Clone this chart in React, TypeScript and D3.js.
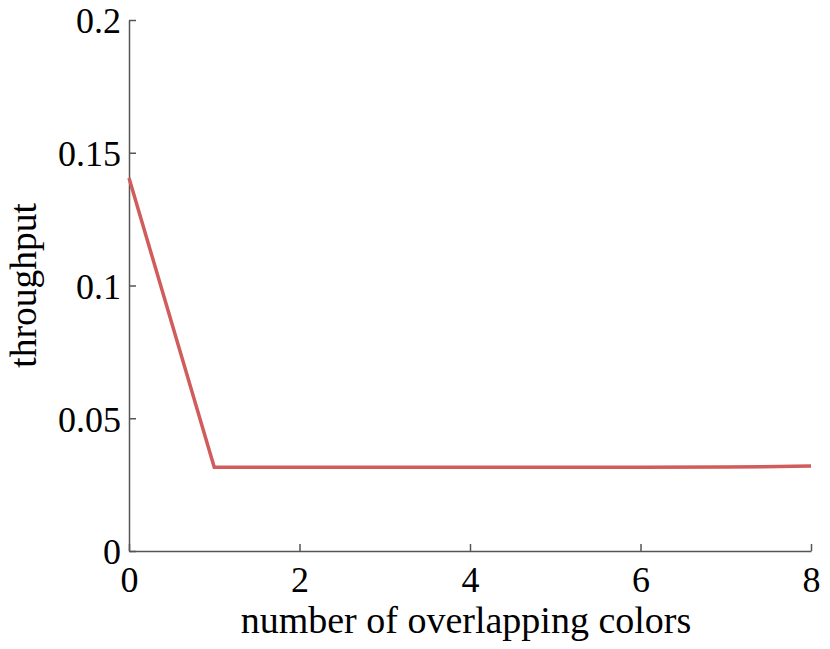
import React, { useEffect, useRef } from 'react';
import * as d3 from 'd3';

// values
const colorsOverlap = [0, 1, 2, 3, 4, 5, 6, 7, 8];
const throughput = [0.1405, 0.0315, 0.0315, 0.0315, 0.0315, 0.0315, 0.0315, 0.0316, 0.032];
const xTicks = [0, 2, 4, 6, 8];
const yTicks = [0, 0.05, 0.1, 0.15, 0.2];
const yTickLabels = ['0', '0.05', '0.1', '0.15', '0.2'];

const W = 830;
const H = 649;
const margin = { top: 20, right: 19, bottom: 98, left: 129 };
const FONT = '"Liberation Serif", "Times New Roman", serif';

const App = () => {
    const ref = useRef<SVGSVGElement>(null);

    useEffect(() => {
        const svg = d3.select(ref.current);
        svg.selectAll('*').remove();

        const x = d3.scaleLinear().domain([0, 8]).range([margin.left, W - margin.right]);
        const y = d3.scaleLinear().domain([0, 0.2]).range([H - margin.bottom, margin.top]);

        // x axis, ticks pointing inward
        const xAxis = svg.append('g')
            .attr('transform', `translate(0,${y(0)})`)
            .call(d3.axisBottom(x).tickValues(xTicks).tickSizeInner(-7).tickSizeOuter(0).tickFormat(d3.format('d')));
        xAxis.select('.domain').attr('stroke', '#555').attr('stroke-width', 1.5);
        xAxis.selectAll('.tick line').attr('stroke', '#555').attr('stroke-width', 1.5);
        xAxis.selectAll('.tick text')
            .attr('y', 41)
            .attr('dy', 0)
            .attr('fill', '#000')
            .style('font-family', FONT)
            .style('font-size', '36px');

        // y axis
        const yAxis = svg.append('g')
            .attr('transform', `translate(${x(0)},0)`)
            .call(d3.axisLeft(y).tickValues(yTicks).tickSizeInner(-7).tickSizeOuter(0)
                .tickFormat((d, i) => yTickLabels[i]));
        yAxis.select('.domain').attr('stroke', '#555').attr('stroke-width', 1.5);
        yAxis.selectAll('.tick text')
            .attr('x', -8)
            .attr('dy', '0.36em')
            .attr('fill', '#000')
            .style('font-family', FONT)
            .style('font-size', '36px');
        yAxis.selectAll('.tick line').attr('stroke', '#555').attr('stroke-width', 1.5);

        // the series
        const line = d3.line<number>()
            .x((d, i) => x(colorsOverlap[i]))
            .y(d => y(d));

        svg.append('path')
            .datum(throughput)
            .attr('d', line)
            .attr('fill', 'none')
            .attr('stroke', '#d05c5c')
            .attr('stroke-width', 3.5)
            .attr('stroke-linejoin', 'miter');

        // axis titles
        svg.append('text')
            .attr('x', (x(0) + x(8)) / 2 - 4)
            .attr('y', 633)
            .attr('text-anchor', 'middle')
            .style('font-family', FONT)
            .style('font-size', '38px')
            .text('number of overlapping colors');

        svg.append('text')
            .attr('transform', `translate(36,${(y(0) + y(0.2)) / 2}) rotate(-90)`)
            .attr('text-anchor', 'middle')
            .style('font-family', FONT)
            .style('font-size', '37.5px')
            .text('throughput');
    }, []);

    return (
        <svg ref={ref} width={W} height={H}
            style={{ position: 'absolute', left: 0, top: 0, background: '#fff' }} />
    );
};

export default App;
